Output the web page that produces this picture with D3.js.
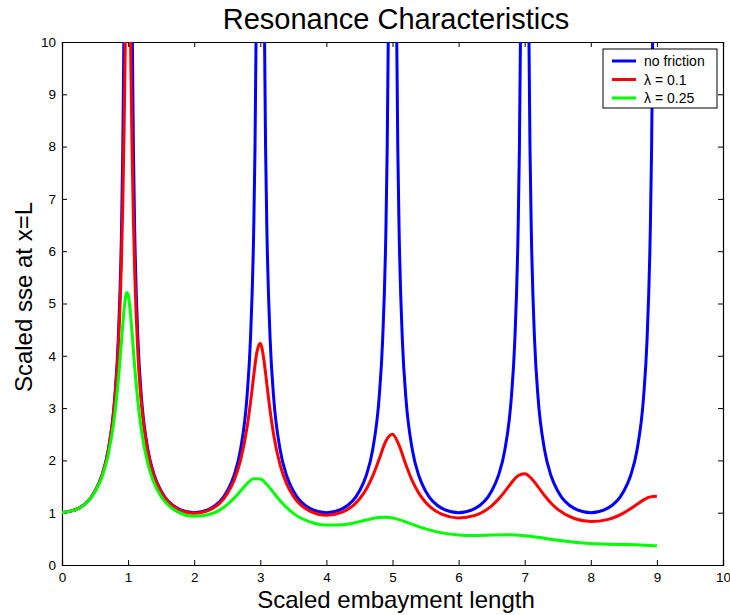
<!DOCTYPE html>
<html>
<head>
<meta charset="utf-8">
<script src="https://cdn.jsdelivr.net/npm/d3@7"></script>
<style>
  body { margin: 0; background: #fff; }
  svg { font-family: "Liberation Sans", Arial, Helvetica, sans-serif; }
</style>
</head>
<body>
<div id="chart"></div>
<script>
// values: [scaled length, scaled sse]
var noFriction = [
  [0,1],[0.25,1.082],[0.5,1.414],[0.6,1.701],[0.7,2.203],[0.8,3.236],[0.85,4.284],[0.9,6.392],[0.92,7.98],[0.94,10.63],[0.95,12.74],
  [1.05,12.74],[1.06,10.63],[1.08,7.98],[1.1,6.392],[1.15,4.284],[1.2,3.236],[1.3,2.203],[1.4,1.701],[1.5,1.414],[1.75,1.082],
  [2,1],[2.25,1.082],[2.5,1.414],[2.6,1.701],[2.7,2.203],[2.8,3.236],[2.85,4.284],[2.9,6.392],[2.92,7.98],[2.94,10.63],[2.95,12.74],
  [3.05,12.74],[3.06,10.63],[3.08,7.98],[3.1,6.392],[3.15,4.284],[3.2,3.236],[3.3,2.203],[3.4,1.701],[3.5,1.414],[3.75,1.082],
  [4,1],[4.25,1.082],[4.5,1.414],[4.6,1.701],[4.7,2.203],[4.8,3.236],[4.85,4.284],[4.9,6.392],[4.92,7.98],[4.94,10.63],[4.95,12.74],
  [5.05,12.74],[5.06,10.63],[5.08,7.98],[5.1,6.392],[5.15,4.284],[5.2,3.236],[5.3,2.203],[5.4,1.701],[5.5,1.414],[5.75,1.082],
  [6,1],[6.25,1.082],[6.5,1.414],[6.6,1.701],[6.7,2.203],[6.8,3.236],[6.85,4.284],[6.9,6.392],[6.92,7.98],[6.94,10.63],[6.95,12.74],
  [7.05,12.74],[7.06,10.63],[7.08,7.98],[7.1,6.392],[7.15,4.284],[7.2,3.236],[7.3,2.203],[7.4,1.701],[7.5,1.414],[7.75,1.082],
  [8,1],[8.25,1.082],[8.5,1.414],[8.6,1.701],[8.7,2.203],[8.8,3.236],[8.85,4.284],[8.9,6.392],[8.92,7.98],[8.94,10.63],[8.95,12.74]
];

var lambda01 = [
  [0,1],[0.25,1.082],[0.5,1.412],[0.6,1.696],[0.7,2.187],[0.8,3.172],[0.85,4.12],[0.9,5.83],[0.92,6.92],[0.94,8.38],[0.96,10.23],[0.98,12.1],
  [1,12.8],[1.02,11.68],[1.04,9.74],[1.06,7.98],[1.08,6.62],[1.1,5.6],[1.15,4.0],[1.2,3.097],[1.3,2.15],[1.4,1.672],[1.5,1.395],[1.75,1.071],
  [2,0.988],[2.25,1.063],[2.5,1.363],[2.6,1.607],[2.7,1.996],[2.8,2.635],[2.85,3.091],[2.9,3.616],[2.95,4.08],[3,4.237],[3.05,3.96],
  [3.1,3.449],[3.15,2.935],[3.2,2.507],[3.3,1.911],[3.4,1.548],[3.5,1.317],[3.75,1.031],
  [4,0.953],[4.25,1.017],[4.5,1.261],[4.6,1.444],[4.7,1.699],[4.8,2.031],[4.9,2.372],[5,2.5],[5.1,2.286],[5.2,1.927],[5.3,1.607],
  [5.4,1.369],[5.5,1.199],[5.75,0.967],
  [6,0.9],[6.25,0.949],[6.5,1.132],[6.6,1.255],[6.7,1.407],[6.8,1.573],[6.9,1.707],[7,1.743],[7.1,1.657],[7.2,1.498],[7.3,1.328],
  [7.4,1.18],[7.5,1.064],[7.75,0.889],
  [8,0.832],[8.25,0.868],[8.5,0.996],[8.6,1.074],[8.7,1.161],[8.8,1.245],[8.9,1.303],[9,1.314]
];

var lambda025 = [
  [0,1],[0.25,1.081],[0.5,1.401],[0.6,1.669],[0.7,2.112],[0.8,2.895],[0.85,3.505],[0.9,4.279],[0.95,5.013],[0.98,5.211],[1,5.176],
  [1.05,4.595],[1.1,3.786],[1.15,3.1],[1.2,2.586],[1.3,1.926],[1.4,1.544],[1.5,1.307],[1.75,1.015],
  [2,0.931],[2.25,0.975],[2.5,1.156],[2.6,1.274],[2.7,1.414],[2.8,1.555],[2.9,1.648],[3,1.644],[3.1,1.538],[3.2,1.383],[3.3,1.227],
  [3.5,0.988],[3.75,0.825],
  [4,0.764],[4.25,0.771],[4.5,0.83],[4.6,0.86],[4.7,0.888],[4.8,0.908],[4.9,0.911],[5,0.897],[5.1,0.867],[5.25,0.801],[5.5,0.691],[5.75,0.614],
  [6,0.575],[6.25,0.565],[6.5,0.572],[6.75,0.577],[7,0.56],[7.25,0.519],[7.5,0.473],[7.75,0.436],
  [8,0.411],[8.25,0.398],[8.5,0.391],[8.75,0.382],[9,0.367]
];

var seriesNames = ["no friction", "\u03bb = 0.1", "\u03bb = 0.25"];
var seriesColors = ["#0000ff", "#ff0000", "#00ff00"];
var xTicks = [0,1,2,3,4,5,6,7,8,9,10];
var yTicks = [0,1,2,3,4,5,6,7,8,9,10];

var width = 730, height = 615;
var margin = {top: 42, right: 7, bottom: 50, left: 62};
var plotW = width - margin.left - margin.right;
var plotH = height - margin.top - margin.bottom;

var svg = d3.select('#chart').append('svg')
  .attr('width', width)
  .attr('height', height);

var x = d3.scaleLinear().domain([0, 10]).range([0, plotW]);
var y = d3.scaleLinear().domain([0, 10]).range([plotH, 0]);

var g = svg.append('g')
  .attr('transform', 'translate(' + margin.left + ',' + margin.top + ')');

svg.append('defs').append('clipPath')
  .attr('id', 'plotClip')
  .append('rect')
  .attr('width', plotW)
  .attr('height', plotH);

// axes, MATLAB style: ticks inside, box all round
var tickLen = 5;
g.append('g')
  .attr('transform', 'translate(0,' + plotH + ')')
  .call(d3.axisBottom(x).tickValues(xTicks).tickSize(-tickLen).tickPadding(7).tickFormat(d3.format('d')));
g.append('g')
  .call(d3.axisTop(x).tickValues(xTicks).tickSize(-tickLen).tickFormat(''));
g.append('g')
  .call(d3.axisLeft(y).tickValues(yTicks).tickSize(-tickLen).tickPadding(6).tickFormat(d3.format('d')));
g.append('g')
  .attr('transform', 'translate(' + plotW + ',0)')
  .call(d3.axisRight(y).tickValues(yTicks).tickSize(-tickLen).tickFormat(''));

g.selectAll('.domain').attr('stroke', '#000').attr('stroke-width', 1.2);
g.selectAll('.tick line').attr('stroke', '#000');
g.selectAll('.tick text').attr('font-size', 13.5).attr('fill', '#000')
  .attr('font-family', '"Liberation Sans", Arial, sans-serif');

var line = d3.line()
  .x(function (d) { return x(d[0]); })
  .y(function (d) { return y(d[1]); })
  .curve(d3.curveMonotoneX);

var lines = g.append('g').attr('clip-path', 'url(#plotClip)');
[noFriction, lambda01, lambda025].forEach(function (data, i) {
  lines.append('path')
    .datum(data)
    .attr('fill', 'none')
    .attr('stroke', seriesColors[i])
    .attr('stroke-width', 3)
    .attr('stroke-linejoin', 'round')
    .attr('d', line);
});

// title and labels
svg.append('text')
  .attr('x', 396)
  .attr('y', 29)
  .attr('text-anchor', 'middle')
  .attr('font-size', 29)
  .text('Resonance Characteristics');

svg.append('text')
  .attr('x', 396)
  .attr('y', 608)
  .attr('text-anchor', 'middle')
  .attr('font-size', 24)
  .text('Scaled embayment length');

svg.append('text')
  .attr('transform', 'translate(32,297) rotate(-90)')
  .attr('text-anchor', 'middle')
  .attr('font-size', 24)
  .text('Scaled sse at x=L');

// legend
var legend = svg.append('g').attr('transform', 'translate(603,49)');
legend.append('rect')
  .attr('width', 114)
  .attr('height', 59)
  .attr('fill', '#fff')
  .attr('stroke', '#000')
  .attr('stroke-width', 1);
seriesNames.forEach(function (name, i) {
  var ry = 12 + i * 18.5;
  legend.append('line')
    .attr('x1', 9).attr('x2', 33)
    .attr('y1', ry).attr('y2', ry)
    .attr('stroke', seriesColors[i])
    .attr('stroke-width', 3);
  legend.append('text')
    .attr('x', 41)
    .attr('y', ry + 5)
    .attr('font-size', 14)
    .text(name);
});
</script>
</body>
</html>
